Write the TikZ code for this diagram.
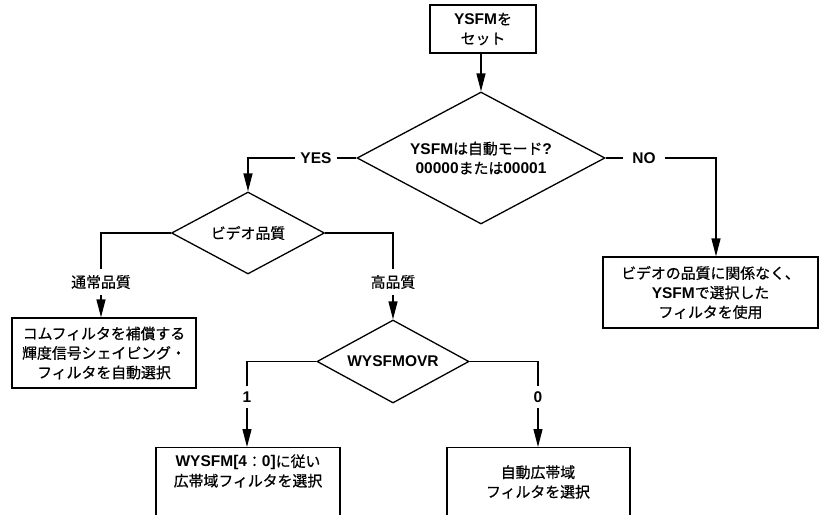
\documentclass[tikz,border=0pt]{standalone}
\usepackage{fontspec}
\setmainfont{Liberation Sans}
\newfontfamily\jpfont{Noto Sans CJK JP}[Scale=0.96,FakeBold=0.6]
\newcommand\J[1]{{\jpfont\mdseries #1}}
\usetikzlibrary{shapes.geometric,arrows.meta}

\begin{document}
\begin{tikzpicture}[x=1pt,y=-1pt,
  font=\fontsize{15.5}{19.5}\selectfont\bfseries,
  line width=1.3pt,
  box/.style={draw, rectangle, inner sep=0pt, align=center},
  plain/.style={inner sep=0pt, align=center},
  decision/.style={draw, diamond, inner sep=0pt, align=center},
  lbl/.style={fill=white, inner xsep=5pt, inner ysep=5pt},
  flow/.style={-{Triangle[length=18pt,width=9pt]}},
]
\useasboundingbox (0,0) rectangle (819,514);
\clip (0,0) rectangle (819,514);

% start and first decision
\node[box, minimum width=106, minimum height=48] (set) at (483,29) {YSFM\J{を}\\\J{セット}};
\node[decision, minimum width=248, minimum height=132, shape aspect=1.88] (auto) at (481,158)
  {YSFM\J{は自動モード}?\\00000\J{または}00001};

% video quality branch
\node[decision, minimum width=153, minimum height=82, shape aspect=1.87] (video) at (248,233) {\J{ビデオ品質}};
\node[box, minimum width=184, minimum height=70] (comb) at (104,353)
  {\J{コムフィルタを補償する}\\\J{輝度信号シェイピング・}\\\J{フィルタを自動選択}};
\node[decision, minimum width=152, minimum height=83, shape aspect=1.83] (ovr) at (393,361.5) {WYSFMOVR};

% fixed filter
\node[box, minimum width=215, minimum height=71] (fixed) at (710.5,292.5)
  {\J{ビデオの品質に関係なく、}\\YSFM\J{で選択した}\\\J{フィルタを使用}};

% wideband boxes, open at the lower edge
\node[draw, rectangle, minimum width=184, minimum height=100, anchor=north] (wide) at (248,447) {};
\node[plain] (widetxt) at (248,471) {WYSFM[4\J{：}0]\J{に従い}\\\J{広帯域フィルタを選択}};
\node[draw, rectangle, minimum width=183, minimum height=100, anchor=north] (autowide) at (538.5,447) {};
\node[plain] (autowidetxt) at (538,482) {\J{自動広帯域}\\\J{フィルタを選択}};

% branch labels
\node[lbl] (yes) at (316,158) {YES};
\node[lbl, inner xsep=9pt] (no) at (644,158) {NO};
\node[lbl] (normal) at (101,282) {\J{通常品質}};
\node[lbl] (high) at (393,282) {\J{高品質}};
\node[lbl] (one) at (247,397) {1};
\node[lbl] (zero) at (538,397) {0};

% connectors
\draw[flow] (set.south -| auto.north) -- (auto.north);
\draw (auto.west) -- (yes.east);
\draw[flow] (yes.west) -| (video.north);
\draw (auto.east) -- (no.west);
\draw[flow] (no.east) -| ([xshift=5.5pt]fixed.north);
\draw (video.west) -| (normal.north);
\draw[flow] (normal.south) -- (normal.south |- comb.north);
\draw (video.east) -| (high.north);
\draw[flow] (high.south) -- (ovr.north);
\draw (ovr.west) -| (one.north);
\draw[flow] (one.south) -- (one.south |- wide.north);
\draw (ovr.east) -| (zero.north);
\draw[flow] (zero.south) -- (zero.south |- autowide.north);
\end{tikzpicture}
\end{document}
